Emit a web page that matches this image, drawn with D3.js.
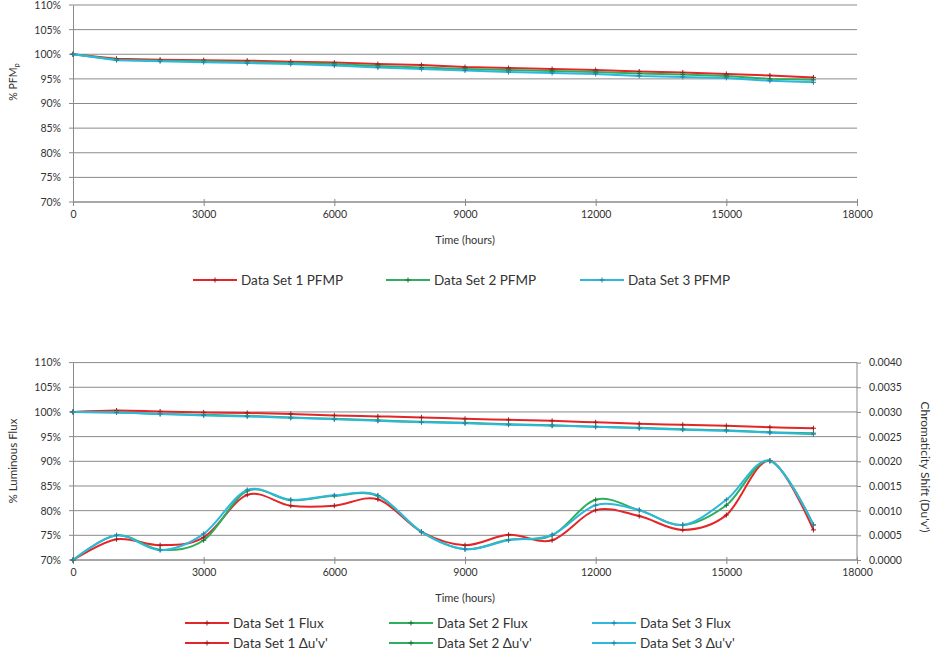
<!DOCTYPE html>
<html>
<head>
<meta charset="utf-8">
<script src="https://cdn.jsdelivr.net/npm/d3@7"></script>
<style>
    body { margin: 0; background: #fff; }
    text { font-family: Lato, "Open Sans", sans-serif; fill: #333; }
</style>
</head>
<body>
<div id="chart"></div>
<script>
// hours of operation for every reading
const hours = [0, 1000, 2000, 3000, 4000, 5000, 6000, 7000, 8000, 9000, 10000, 11000, 12000, 13000, 14000, 15000, 16000, 17000];

// top chart: % PFMp
const pfmp1 = [100, 99.1, 98.9, 98.8, 98.7, 98.5, 98.3, 98.0, 97.8, 97.4, 97.2, 97.0, 96.8, 96.5, 96.3, 96.0, 95.7, 95.3];
const pfmp2 = [100, 98.9, 98.7, 98.6, 98.4, 98.2, 98.0, 97.6, 97.3, 97.0, 96.8, 96.6, 96.4, 96.1, 95.9, 95.6, 95.0, 94.8];
const pfmp3 = [100, 98.8, 98.6, 98.4, 98.2, 98.0, 97.7, 97.3, 97.0, 96.7, 96.4, 96.2, 96.0, 95.6, 95.4, 95.2, 94.6, 94.3];

// bottom chart: % luminous flux (left axis)
const flux1 = [100, 100.3, 100.1, 99.9, 99.8, 99.6, 99.3, 99.1, 98.9, 98.6, 98.4, 98.2, 97.9, 97.6, 97.4, 97.2, 96.9, 96.7];
const flux2 = [100, 99.9, 99.6, 99.4, 99.2, 98.9, 98.6, 98.3, 98.0, 97.8, 97.5, 97.3, 97.0, 96.8, 96.5, 96.3, 95.9, 95.7];
const flux3 = [100, 99.9, 99.6, 99.3, 99.1, 98.8, 98.5, 98.2, 97.9, 97.7, 97.4, 97.2, 97.0, 96.7, 96.4, 96.2, 95.8, 95.5];

// bottom chart: chromaticity shift du'v' (right axis)
const duv1 = [0, 0.00042, 0.00030, 0.00046, 0.00132, 0.00110, 0.00110, 0.00123, 0.00057, 0.00030, 0.00051, 0.00040, 0.00101, 0.00089, 0.00061, 0.00091, 0.00201, 0.00061];
const duv2 = [0, 0.00050, 0.00021, 0.00040, 0.00140, 0.00121, 0.00130, 0.00130, 0.00057, 0.00022, 0.00041, 0.00050, 0.00122, 0.00101, 0.00071, 0.00111, 0.00201, 0.00071];
const duv3 = [0, 0.00050, 0.00020, 0.00053, 0.00142, 0.00122, 0.00131, 0.00131, 0.00057, 0.00022, 0.00040, 0.00051, 0.00111, 0.00101, 0.00071, 0.00122, 0.00201, 0.00071];

// axis ticks
const hourTicks = [0, 3000, 6000, 9000, 12000, 15000, 18000];
const pctTicks = [70, 75, 80, 85, 90, 95, 100, 105, 110];
const duvTicks = [0, 0.0005, 0.0010, 0.0015, 0.0020, 0.0025, 0.0030, 0.0035, 0.0040];

// legend labels
const topLabels = ["Data Set 1 PFMP", "Data Set 2 PFMP", "Data Set 3 PFMP"];
const fluxLabels = ["Data Set 1 Flux", "Data Set 2 Flux", "Data Set 3 Flux"];
const duvLabels = ["Data Set 1 \u0394u'v'", "Data Set 2 \u0394u'v'", "Data Set 3 \u0394u'v'"];

const colors = ["#e52629", "#2fae5e", "#2fb8de"];
const markColors = ["#9c1a1a", "#1f6e3c", "#2a7f9c"];
const gridColor = "#8a8a8a";

const svg = d3.select("#chart").append("svg")
    .attr("width", 935)
    .attr("height", 660);

svg.append("rect").attr("width", 935).attr("height", 660).attr("fill", "#fff");

const x = d3.scaleLinear().domain([0, 18000]).range([73, 857]);

/**
* Draw the gridlines, left axis and x axis for one chart.
*/
function drawFrame(y, yTickFormat) {
    let g = svg.append("g");

    g.selectAll("line.grid")
        .data(pctTicks)
        .enter()
        .append("line")
        .attr("x1", x(0) - 4)
        .attr("x2", x(18000))
        .attr("y1", d => y(d))
        .attr("y2", d => y(d))
        .attr("stroke", gridColor)
        .attr("stroke-width", 1);

    // left axis
    let left = d3.axisLeft(y).tickValues(pctTicks).tickSize(0).tickPadding(12).tickFormat(yTickFormat);
    g.append("g").attr("transform", "translate(" + x(0) + ",0)").call(left)
        .call(a => a.select(".domain").attr("stroke", gridColor))
        .call(a => a.selectAll("text").attr("font-size", 10.5).attr("font-family", "Lato").attr("fill", "#333"));

    // bottom axis
    let bottom = d3.axisBottom(x).tickValues(hourTicks).tickSize(4).tickPadding(5).tickFormat(d3.format("d"));
    g.append("g").attr("transform", "translate(0," + y(70) + ")").call(bottom)
        .call(a => a.select(".domain").attr("stroke", gridColor).attr("d", "M" + x(0) + ",0H" + x(18000)))
        .call(a => a.selectAll(".tick line").attr("stroke", gridColor).attr("y1", -3))
        .call(a => a.selectAll("text").attr("font-size", 10.5).attr("font-family", "Lato").attr("fill", "#333"));

    return g;
}

/**
* Draw a series as a line with small cross markers.
*/
function drawSeries(values, y, i, curve) {
    let pts = hours.map((h, k) => [x(h), y(values[k])]);
    let line = d3.line().curve(curve);

    svg.append("path")
        .attr("d", line(pts))
        .attr("fill", "none")
        .attr("stroke", colors[i])
        .attr("stroke-width", 2);

    svg.append("g").selectAll("path")
        .data(pts)
        .enter()
        .append("path")
        .attr("d", p => "M" + (p[0] - 2.5) + "," + p[1] + "h5M" + p[0] + "," + (p[1] - 2.5) + "v5")
        .attr("stroke", markColors[i])
        .attr("stroke-width", 1);
}

/**
* Draw one legend entry: a short line with a marker and its label.
*/
function legendItem(lx, ly, i, label) {
    svg.append("line")
        .attr("x1", lx).attr("x2", lx + 44)
        .attr("y1", ly).attr("y2", ly)
        .attr("stroke", colors[i]).attr("stroke-width", 2);
    svg.append("path")
        .attr("d", "M" + (lx + 22) + "," + (ly - 2.5) + "v5M" + (lx + 19.5) + "," + ly + "h5")
        .attr("stroke", markColors[i]).attr("stroke-width", 1);
    svg.append("text")
        .attr("x", lx + 48).attr("y", ly + 4.5)
        .attr("font-size", 13.5)
        .text(label);
}

let pctFormat = d => d + "%";

// ---------- top chart ----------
const yTop = d3.scaleLinear().domain([70, 110]).range([202, 5]);
drawFrame(yTop, pctFormat);

[pfmp1, pfmp2, pfmp3].forEach((s, i) => drawSeries(s, yTop, i, d3.curveLinear));

svg.append("text")
    .attr("x", 465).attr("y", 244)
    .attr("text-anchor", "middle")
    .attr("font-size", 11)
    .text("Time (hours)");

let topTitle = svg.append("text")
    .attr("transform", "translate(17,82) rotate(-90)")
    .attr("text-anchor", "middle")
    .attr("font-size", 10.5);
topTitle.append("tspan").text("% PFM");
topTitle.append("tspan").attr("font-size", 7.5).attr("dy", 2).text("p");

[193, 386, 580].forEach((lx, i) => legendItem(lx, 280, i, topLabels[i]));

// ---------- bottom chart ----------
const yBot = d3.scaleLinear().domain([70, 110]).range([560, 362.6]);
const yDuv = d3.scaleLinear().domain([0, 0.004]).range([560, 362.6]);
drawFrame(yBot, pctFormat);

// right axis for chromaticity shift
let right = d3.axisRight(yDuv).tickValues(duvTicks).tickSize(4).tickPadding(8).tickFormat(d3.format(".4f"));
svg.append("g").attr("transform", "translate(" + x(18000) + ",0)").call(right)
    .call(a => a.select(".domain").attr("stroke", gridColor).attr("d", "M0," + yDuv(0) + "V" + yDuv(0.004)))
    .call(a => a.selectAll(".tick line").attr("stroke", gridColor))
    .call(a => a.selectAll("text").attr("font-size", 10.5).attr("font-family", "Lato").attr("fill", "#333"));

let smooth = d3.curveCatmullRom.alpha(0);
[flux1, flux2, flux3].forEach((s, i) => drawSeries(s, yBot, i, smooth));
[duv1, duv2, duv3].forEach((s, i) => drawSeries(s, yDuv, i, smooth));

svg.append("text")
    .attr("x", 465).attr("y", 602)
    .attr("text-anchor", "middle")
    .attr("font-size", 11)
    .text("Time (hours)");

svg.append("text")
    .attr("transform", "translate(17,461) rotate(-90)")
    .attr("text-anchor", "middle")
    .attr("font-size", 11.5)
    .text("% Luminous Flux");

svg.append("text")
    .attr("transform", "translate(921,467) rotate(90)")
    .attr("text-anchor", "middle")
    .attr("font-size", 12)
    .text("Chromaticity Shift (Du'v')");

[185, 389, 592].forEach((lx, i) => {
    legendItem(lx, 623, i, fluxLabels[i]);
    legendItem(lx, 643, i, duvLabels[i]);
});
</script>
</body>
</html>
